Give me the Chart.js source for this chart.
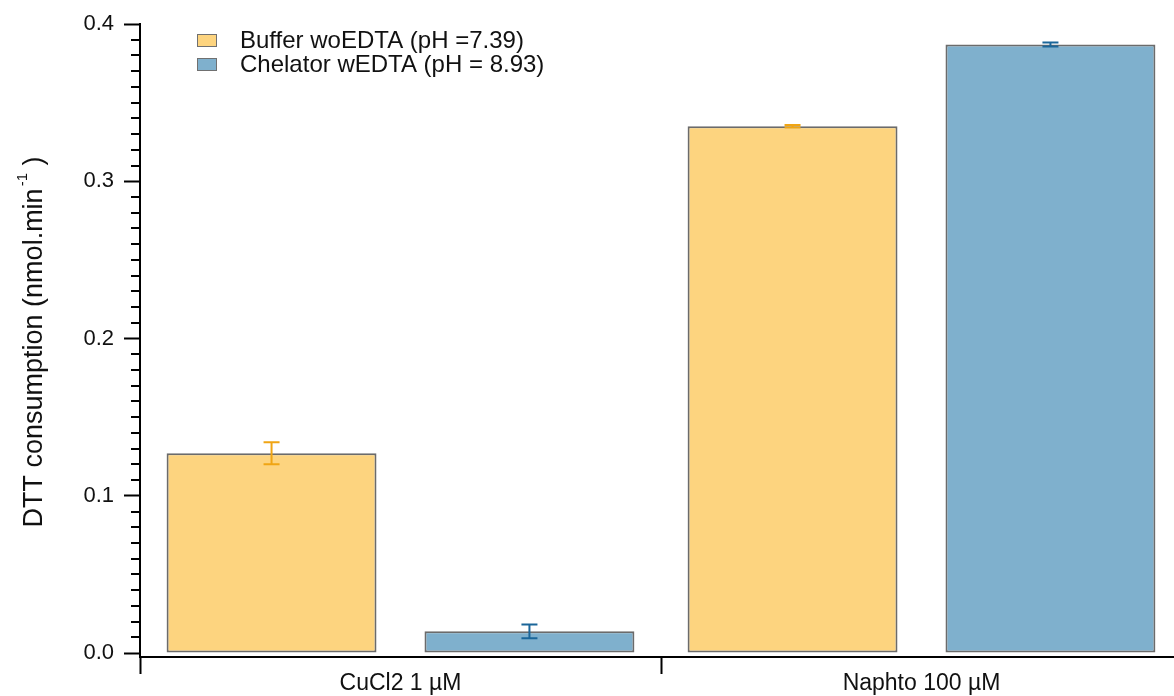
<!DOCTYPE html>
<html>
<head>
<meta charset="utf-8">
<script src="https://cdn.jsdelivr.net/npm/chart.js@4.4.1/dist/chart.umd.min.js"></script>
<style>
  html, body { margin: 0; padding: 0; background: #fff; overflow: hidden; }
  #wrap { width: 1174px; height: 696px; overflow: hidden; }
</style>
</head>
<body>
<div id="wrap"><canvas id="chart" width="1182" height="696"></canvas></div>
<script>
// Datos
const categories = ['CuCl2 1 µM', 'Naphto 100 µM'];
const seriesLabels = ['Buffer woEDTA (pH =7.39)', 'Chelator wEDTA (pH = 8.93)'];
const bufferValues = [0.127, 0.335];
const bufferErrors = [0.007, 0.0008];
const chelatorValues = [0.0138, 0.387];
const chelatorErrors = [0.0043, 0.0013];
const yTickLabels = ['0.0', '0.1', '0.2', '0.3', '0.4'];
const yMinorStep = 0.01;

const FONT = "'Liberation Sans', Arial, sans-serif";
Chart.defaults.font.family = FONT;
Chart.defaults.color = '#111';

function isMajor(v) {
  return Math.round(v * 100) % 10 === 0;
}

// Barras de error
const errorBarsPlugin = {
  id: 'errorBars',
  afterDatasetsDraw(chart) {
    const { ctx, scales: { y } } = chart;
    chart.data.datasets.forEach((ds, i) => {
      const meta = chart.getDatasetMeta(i);
      meta.data.forEach((bar, j) => {
        const v = ds.data[j];
        const e = ds.errors[j];
        const top = y.getPixelForValue(v + e);
        const bot = y.getPixelForValue(v - e);
        const half = 8;
        ctx.save();
        ctx.strokeStyle = ds.errorColor;
        ctx.lineWidth = 2;
        ctx.beginPath();
        ctx.moveTo(bar.x, top); ctx.lineTo(bar.x, bot);
        ctx.moveTo(bar.x - half, top); ctx.lineTo(bar.x + half, top);
        ctx.moveTo(bar.x - half, bot); ctx.lineTo(bar.x + half, bot);
        ctx.stroke();
        ctx.restore();
      });
    });
  }
};

// Ticks menores del eje Y, leyenda y título del eje
const decorPlugin = {
  id: 'decor',
  afterDraw(chart) {
    const { ctx, scales: { y } } = chart;

    ctx.save();
    ctx.strokeStyle = '#000';
    ctx.lineWidth = 2;
    ctx.beginPath();
    y.ticks.forEach(t => {
      if (isMajor(t.value)) return;
      const py = Math.round(y.getPixelForValue(t.value));
      ctx.moveTo(y.right - 9, py);
      ctx.lineTo(y.right, py);
    });
    ctx.stroke();
    ctx.restore();

    // leyenda
    ctx.save();
    ctx.font = `24px ${FONT}`;
    ctx.textBaseline = 'middle';
    chart.data.datasets.forEach((ds, i) => {
      const cy = 41 + i * 24;
      ctx.fillStyle = ds.backgroundColor;
      ctx.fillRect(197, cy - 7, 20, 13);
      ctx.strokeStyle = '#707070';
      ctx.lineWidth = 1;
      ctx.strokeRect(197.5, cy - 6.5, 19, 12);
      ctx.fillStyle = '#111';
      ctx.fillText(ds.label, 240, cy);
    });
    ctx.restore();

    // título del eje Y con superíndice
    const main = 'DTT consumption (nmol.min';
    const sup = '-1';
    const tail = ' )';
    ctx.save();
    ctx.translate(35, 342);
    ctx.rotate(-Math.PI / 2);
    ctx.fillStyle = '#111';
    ctx.textBaseline = 'middle';
    ctx.font = `27px ${FONT}`;
    const wMain = ctx.measureText(main).width;
    const wTail = ctx.measureText(tail).width;
    ctx.font = `15px ${FONT}`;
    const wSup = ctx.measureText(sup).width;
    let x = -(wMain + wSup + wTail + 2) / 2;
    ctx.font = `27px ${FONT}`;
    ctx.fillText(main, x, 0);
    x += wMain;
    ctx.font = `15px ${FONT}`;
    ctx.fillText(sup, x + 2, -12);
    x += wSup + 2;
    ctx.font = `27px ${FONT}`;
    ctx.fillText(tail, x, 0);
    ctx.restore();
  }
};

new Chart(document.getElementById('chart'), {
  type: 'bar',
  data: {
    labels: categories,
    datasets: [
      {
        label: seriesLabels[0],
        data: bufferValues,
        errors: bufferErrors,
        backgroundColor: '#FDD47F',
        borderColor: '#6b6b6b',
        errorColor: '#F0A514',
        borderWidth: 2,
        borderSkipped: false,
      },
      {
        label: seriesLabels[1],
        data: chelatorValues,
        errors: chelatorErrors,
        backgroundColor: '#7FB0CD',
        borderColor: '#6b6b6b',
        errorColor: '#1B6699',
        borderWidth: 2,
        borderSkipped: false,
      }
    ]
  },
  options: {
    responsive: false,
    animation: false,
    devicePixelRatio: 1,
    categoryPercentage: 0.99,
    barPercentage: 0.814,
    layout: { padding: { left: 0, top: 24, right: 0, bottom: 0 } },
    plugins: { legend: { display: false }, tooltip: { enabled: false } },
    scales: {
      x: {
        type: 'category',
        offset: true,
        border: { display: true, color: '#000', width: 2 },
        grid: {
          display: true, drawOnChartArea: false, drawTicks: true,
          tickLength: 17, offset: true, color: '#000', tickWidth: 2,
        },
        ticks: { font: { size: 23 }, color: '#111', padding: -4, maxRotation: 0 },
        afterFit(scale) { scale.height = 39; },
      },
      y: {
        min: -0.0025,
        max: 0.4,
        border: { display: true, color: '#000', width: 2 },
        grid: {
          display: true, drawOnChartArea: false, drawTicks: true,
          tickLength: 16, tickWidth: 2,
          tickColor: (c) => (c.tick && isMajor(c.tick.value)) ? '#000' : 'rgba(0,0,0,0)',
        },
        afterBuildTicks(scale) {
          const ticks = [];
          const n = Math.round(0.4 / yMinorStep);
          for (let k = 0; k <= n; k++) ticks.push({ value: k * yMinorStep });
          scale.ticks = ticks;
        },
        ticks: {
          autoSkip: false,
          font: { size: 22 },
          color: '#111',
          padding: 10,
          callback: (v) => isMajor(v) ? yTickLabels[Math.round(v * 10)] : '',
        },
        afterFit(scale) { scale.width = 140; },
      }
    }
  },
  plugins: [errorBarsPlugin, decorPlugin]
});
</script>
</body>
</html>
